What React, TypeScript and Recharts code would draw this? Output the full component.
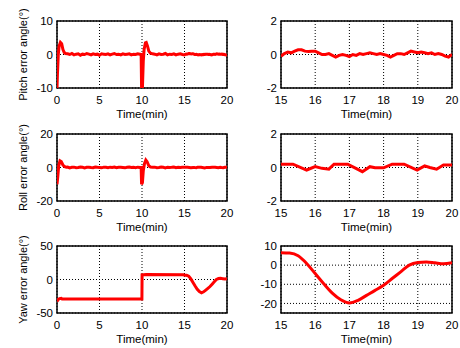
import React from 'react';
import { LineChart, Line, XAxis, YAxis, CartesianGrid, ReferenceArea, Label } from 'recharts';

// ---------- tick labels ----------
const fullTicks = [0, 5, 10, 15, 20];
const zoomTicks = [15, 16, 17, 18, 19, 20];
const pitchFullYTicks = [-10, 0, 10];
const rollFullYTicks = [-20, 0, 20];
const yawFullYTicks = [-50, 0, 50];
const smallYTicks = [-2, 0, 2];
const yawZoomYTicks = [-20, -10, 0, 10];

// ---------- zoomed (15-20 min) series ----------
const pitchZoomTime = [15.0, 15.1, 15.2, 15.3, 15.4, 15.5, 15.6, 15.7, 15.8, 15.9, 16.0, 16.1, 16.2, 16.3, 16.4, 16.5, 16.6, 16.7, 16.8, 16.9, 17.0, 17.1, 17.2, 17.3, 17.4, 17.5, 17.6, 17.7, 17.8, 17.9, 18.0, 18.1, 18.2, 18.3, 18.4, 18.5, 18.6, 18.7, 18.8, 18.9, 19.0, 19.1, 19.2, 19.3, 19.4, 19.5, 19.6, 19.7, 19.8, 19.9, 20.0];
const pitchZoomDeg = [-0.1, 0.05, 0.15, 0.1, 0.2, 0.28, 0.28, 0.2, 0.18, 0.2, 0.2, 0.1, 0.0, 0.0, 0.05, -0.05, -0.15, -0.05, 0.0, -0.05, -0.12, 0.0, -0.05, 0.05, 0.0, 0.05, 0.1, 0.05, 0.0, 0.05, 0.0, -0.05, -0.15, -0.05, 0.05, 0.05, 0.0, 0.1, 0.2, 0.15, 0.1, 0.15, 0.1, 0.05, 0.1, 0.0, 0.05, 0.0, -0.1, -0.15, 0.0];

const rollZoomTime = [15, 15.35, 15.75, 16.0, 16.2, 16.4, 16.55, 16.95, 17.38, 17.6, 17.75, 18.0, 18.25, 18.6, 18.98, 19.2, 19.35, 19.55, 19.75, 20];
const rollZoomDeg = [0.2, 0.2, -0.15, 0.05, -0.05, -0.1, 0.2, 0.2, -0.25, 0.05, -0.02, -0.02, 0.2, 0.2, -0.15, 0.1, 0.0, -0.1, 0.15, 0.15];

const yawZoomTime = [15, 15.25, 15.5, 15.75, 16, 16.25, 16.5, 16.75, 17, 17.25, 17.5, 17.75, 18, 18.25, 18.5, 18.75, 19, 19.25, 19.5, 19.75, 20];
const yawZoomDeg = [6.5, 6.3, 4.9, 0.9, -4.4, -9.7, -14.6, -18.1, -19.8, -18.4, -15.8, -13.2, -10.5, -7, -3.5, 0, 1.4, 1.7, 1.2, 0.7, 1.2];

// ---------- full (0-15 min) series; 15-20 continues with the zoomed data ----------
const pitchFullTime = [0, 0.05, 0.15, 0.25, 0.4, 0.55, 0.7, 0.85, 1.0,
  1.25, 1.5, 1.75, 2, 2.25, 2.5, 2.75, 3, 3.25, 3.5, 3.75, 4, 4.25, 4.5, 4.75, 5, 5.25, 5.5, 5.75, 6, 6.25, 6.5, 6.75, 7, 7.25, 7.5, 7.75, 8, 8.25, 8.5, 8.75, 9, 9.25, 9.5, 9.75,
  9.9, 9.95, 10.05, 10.15, 10.25, 10.4, 10.5, 10.65, 10.8, 11.0,
  11.25, 11.5, 11.75, 12, 12.25, 12.5, 12.75, 13, 13.25, 13.5, 13.75, 14, 14.25, 14.5, 14.75];
const pitchFullDeg = [-10, -6, 0, 2.5, 3.6, 3.2, 1.5, 0.6, 0.3,
  0.2, 0.0, 0.3, -0.1, 0.1, 0.2, -0.2, 0.1, 0.0, 0.3, 0.1, -0.1, 0.2, 0.0, 0.1, -0.2, 0.2, 0.1, 0.0, 0.2, -0.1, 0.1, 0.3, 0.0, 0.1, -0.1, 0.2, 0.0, 0.1, 0.2, -0.1, 0.1, 0.0, 0.2, 0.1,
  0, -10, -10, -2, 1.5, 3.5, 3.6, 2.5, 1, 0.4,
  0.2, 0.1, -0.1, 0.2, 0.0, 0.1, 0.3, -0.1, 0.1, 0.0, 0.2, -0.1, 0.1, 0.2, 0.0];

const rollFullTime = [0, 0.1, 0.2, 0.35, 0.5, 0.7, 0.9, 1.1,
  1.25, 1.5, 1.75, 2, 2.25, 2.5, 2.75, 3, 3.25, 3.5, 3.75, 4, 4.25, 4.5, 4.75, 5, 5.25, 5.5, 5.75, 6, 6.25, 6.5, 6.75, 7, 7.25, 7.5, 7.75, 8, 8.25, 8.5, 8.75, 9, 9.25, 9.5, 9.75,
  9.9, 9.95, 10.05, 10.15, 10.3, 10.45, 10.6, 10.8, 11.0,
  11.25, 11.5, 11.75, 12, 12.25, 12.5, 12.75, 13, 13.25, 13.5, 13.75, 14, 14.25, 14.5, 14.75];
const rollFullDeg = [-10, -5, 1, 4, 3.5, 1.5, 0.5, 0.2,
  0.3, -0.2, 0.1, 0.2, -0.1, 0.0, 0.3, 0.1, -0.2, 0.1, 0.2, 0.0, -0.1, 0.3, 0.1, 0.0, -0.2, 0.2, 0.1, -0.1, 0.2, 0.0, 0.3, -0.1, 0.1, 0.2, 0.0, -0.2, 0.1, 0.3, 0.0, 0.1, -0.1, 0.2, 0.0,
  0, -10, -9, -2, 2.5, 4.5, 3.5, 1, 0.3,
  0.1, 0.2, -0.1, 0.0, 0.3, 0.1, -0.2, 0.2, 0.0, 0.1, 0.3, -0.1, 0.1, 0.0, 0.2];

const yawFullTime = [0, 0.1, 0.3, 0.5, 0.6, 1, 9.99, 10.01, 10.5, 14.9];
const yawFullDeg = [-33, -30, -28.5, -28, -29, -29, -29, 7, 7.5, 7];

const toRows = (t: number[], v: number[]) => t.map((time, i) => ({ t: time, v: v[i] }));

const pitchZoom = toRows(pitchZoomTime, pitchZoomDeg);
const rollZoom = toRows(rollZoomTime, rollZoomDeg);
const yawZoom = toRows(yawZoomTime, yawZoomDeg);
const pitchFull = toRows(pitchFullTime, pitchFullDeg).concat(pitchZoom);
const rollFull = toRows(rollFullTime, rollFullDeg).concat(rollZoom);
const yawFull = toRows(yawFullTime, yawFullDeg).concat(yawZoom);

const FONT = '"Liberation Sans", Arial, Helvetica, sans-serif';

type PanelProps = {
  left: number;
  top: number;
  chartWidth: number;
  data: { t: number; v: number }[];
  xDomain: [number, number];
  xTicks: number[];
  yDomain: [number, number];
  yTicks: number[];
  yAxisWidth: number;
  marginRight: number;
  yTitle?: string;
  smooth?: boolean;
};

function Panel({ left, top, chartWidth, data, xDomain, xTicks, yDomain, yTicks, yAxisWidth, marginRight, yTitle, smooth }: PanelProps) {
  return (
    <div style={{ position: 'absolute', left, top }}>
      <LineChart width={chartWidth} height={120} data={data} margin={{ top: 21, right: marginRight, bottom: 2, left: 0 }}>
        <CartesianGrid stroke="#000" strokeDasharray="1 2" strokeWidth={1} />
        <XAxis
          dataKey="t"
          type="number"
          domain={xDomain}
          ticks={xTicks}
          allowDataOverflow
          height={30}
          tickLine={false}
          axisLine={false}
          tickSize={6}
          tickMargin={2}
          interval={0}
          tick={{ fontSize: 11.5, fill: '#000', fontFamily: FONT }}
        >
          <Label value="Time(min)" position="insideBottom" offset={0} style={{ fontSize: 11.5, fill: '#000', fontFamily: FONT }} />
        </XAxis>
        <YAxis
          type="number"
          domain={yDomain}
          ticks={yTicks}
          allowDataOverflow
          width={yAxisWidth}
          tickLine={false}
          axisLine={false}
          tickSize={2}
          tickMargin={2}
          interval={0}
          tick={{ fontSize: 11.5, fill: '#000', fontFamily: FONT }}
        >
          {yTitle ? (
            <Label
              content={(p: any) => {
                const vb = p.viewBox || {};
                const cx = 23;
                const cy = (vb.y ?? 0) + (vb.height ?? 0) / 2;
                return (
                  <text
                    x={cx}
                    y={cy}
                    transform={`rotate(-90 ${cx} ${cy})`}
                    textAnchor="middle"
                    dominantBaseline="central"
                    fontSize={11}
                    fill="#000"
                    fontFamily={FONT}
                  >
                    {yTitle}
                  </text>
                );
              }}
            />
          ) : null}
        </YAxis>
        <Line
          dataKey="v"
          type={smooth ? 'monotone' : 'linear'}
          stroke="#ff0000"
          strokeWidth={3}
          dot={false}
          activeDot={false}
          isAnimationActive={false}
        />
        <ReferenceArea
          x1={xDomain[0]}
          x2={xDomain[1]}
          y1={yDomain[0]}
          y2={yDomain[1]}
          fill="none"
          stroke="#000"
          strokeWidth={1.5}
          ifOverflow="visible"
        />
      </LineChart>
    </div>
  );
}

export default function App() {
  return (
    <div style={{ position: 'absolute', left: 0, top: 0, width: 460, height: 348, background: '#fff', fontFamily: FONT }}>
      <Panel left={230} top={0} chartWidth={230} data={pitchZoom} xDomain={[15, 20]} xTicks={zoomTicks} yDomain={[-2, 2]} yTicks={smallYTicks} yAxisWidth={51} marginRight={8} />
      <Panel left={230} top={113} chartWidth={230} data={rollZoom} xDomain={[15, 20]} xTicks={zoomTicks} yDomain={[-2, 2]} yTicks={smallYTicks} yAxisWidth={51} marginRight={8} />
      <Panel left={230} top={225} chartWidth={230} data={yawZoom} xDomain={[15, 20]} xTicks={zoomTicks} yDomain={[-25, 10]} yTicks={yawZoomYTicks} yAxisWidth={51} marginRight={8} smooth />
      <Panel left={0} top={0} chartWidth={242} data={pitchFull} xDomain={[0, 20]} xTicks={fullTicks} yDomain={[-10, 10]} yTicks={pitchFullYTicks} yAxisWidth={57} marginRight={15} yTitle="Pitch error angle(°)" />
      <Panel left={0} top={113} chartWidth={242} data={rollFull} xDomain={[0, 20]} xTicks={fullTicks} yDomain={[-20, 20]} yTicks={rollFullYTicks} yAxisWidth={57} marginRight={15} yTitle="Roll error angle(°)" />
      <Panel left={0} top={225} chartWidth={242} data={yawFull} xDomain={[0, 20]} xTicks={fullTicks} yDomain={[-50, 50]} yTicks={yawFullYTicks} yAxisWidth={57} marginRight={15} yTitle="Yaw error angle(°)" />
    </div>
  );
}
